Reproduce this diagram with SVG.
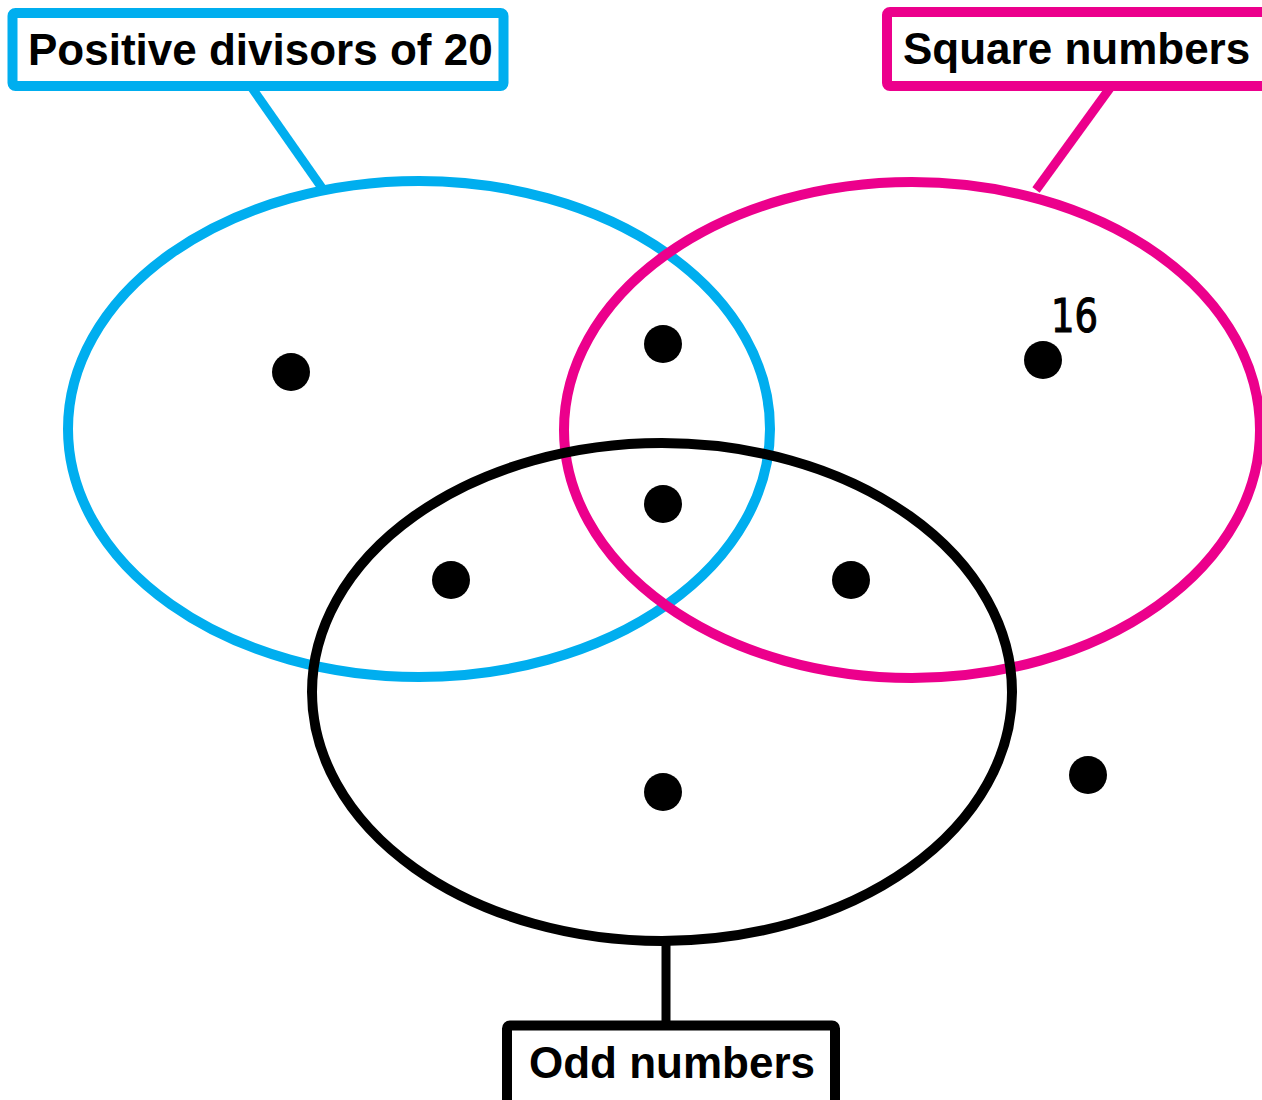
<svg xmlns="http://www.w3.org/2000/svg" width="1262" height="1100" viewBox="0 0 1262 1100">
<style>
.set{fill:none;stroke-width:10}
.lbl{fill:#fff;stroke-width:10}
.t{font-family:"Liberation Sans",Arial,sans-serif;font-weight:bold;font-size:44px;fill:#000}
.dot{fill:#000}
</style>
<rect width="1262" height="1100" fill="#fff"/>
<g id="connectors">
<line x1="252" y1="88" x2="322" y2="188" stroke="#00aeef" stroke-width="9"/>
<line x1="1110" y1="88" x2="1036" y2="190" stroke="#ec008c" stroke-width="9"/>
<line x1="666" y1="942" x2="666" y2="1022" stroke="#000" stroke-width="9"/>
</g>
<g id="set-divisors"><ellipse class="set" cx="419" cy="429" rx="351" ry="248" stroke="#00aeef"/></g>
<g id="set-squares"><ellipse class="set" cx="912" cy="430" rx="348" ry="248" stroke="#ec008c"/></g>
<g id="set-odd"><ellipse class="set" cx="662" cy="692" rx="350" ry="249" stroke="#000" stroke-width="11"/></g>
<g id="label-divisors">
<rect class="lbl" x="12.5" y="13" width="491" height="73" rx="3" stroke="#00aeef"/>
<text class="t" x="28" y="65">Positive divisors of 20</text>
</g>
<g id="label-squares">
<rect class="lbl" x="887" y="12" width="400" height="74" rx="3" stroke="#ec008c"/>
<text class="t" x="903" y="64">Square numbers</text>
</g>
<g id="label-odd">
<rect class="lbl" x="507" y="1025.5" width="328" height="100" rx="3" stroke="#000"/>
<text class="t" x="529" y="1078">Odd numbers</text>
</g>
<g id="dots">
<circle class="dot" cx="291" cy="372" r="19"/>
<circle class="dot" cx="663" cy="344" r="19"/>
<circle class="dot" cx="1043" cy="360" r="19"/>
<circle class="dot" cx="663" cy="504" r="19"/>
<circle class="dot" cx="451" cy="580" r="19"/>
<circle class="dot" cx="851" cy="580" r="19"/>
<circle class="dot" cx="663" cy="792" r="19"/>
<circle class="dot" cx="1088" cy="775" r="19"/>
</g>
<g id="label-16">
<text x="1051" y="332" font-family="'DejaVu Sans',sans-serif" font-size="46" textLength="47" lengthAdjust="spacingAndGlyphs" fill="#000" stroke="#000" stroke-width="1.2">16</text>
</g>
</svg>
